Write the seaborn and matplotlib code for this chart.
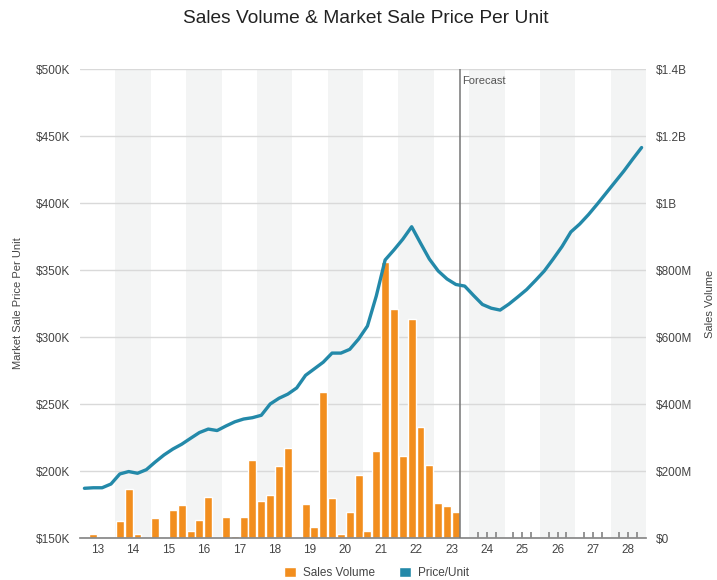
import numpy as np
import pandas as pd
import matplotlib
matplotlib.use("Agg")
import matplotlib.pyplot as plt
from matplotlib.patches import Patch
import seaborn as sns

# years on the x axis (labels are the short year)
years = list(range(13, 29))

# quarterly sales volume, $M, 2013 Q1 .. 2023 Q3
volume_m = [0, 13, 0, 0,
            52, 146, 13, 0,
            59, 0, 84, 99,
            22, 54, 123, 4,
            62, 6, 62, 233,
            110, 128, 214, 268,
            0, 101, 33, 436,
            119, 11, 78, 189,
            21, 260, 823, 684,
            246, 654, 331, 219,
            104, 96, 78]

# quarterly market sale price per unit, $K, 2013 Q1 .. 2028 Q4
price_k = [187.1, 187.5, 187.5, 190.3,
           197.8, 199.6, 198.3, 201.0,
           206.7, 212.0, 216.4, 220.0,
           224.4, 228.7, 231.3, 230.2,
           233.6, 236.7, 238.8, 239.8,
           241.6, 250.0, 254.3, 257.4,
           262.0, 271.4, 276.3, 281.2,
           288.0, 288.0, 290.8, 298.5,
           308.2, 330.6, 357.5, 365.0,
           373.0, 382.3, 370.1, 358.2,
           349.3, 343.3, 339.2, 338.0,
           331.0, 324.3, 321.5, 320.1,
           324.6, 329.9, 335.4, 342.2,
           349.3, 358.2, 367.5, 378.4,
           384.3, 391.4, 399.3, 407.5,
           415.7, 423.9, 432.8, 441.4]

forecast_at = 23.25

price_ticks = [150, 200, 250, 300, 350, 400, 450, 500]
price_labels = ["$150K", "$200K", "$250K", "$300K", "$350K", "$400K", "$450K", "$500K"]
vol_ticks = [0, 200, 400, 600, 800, 1000, 1200, 1400]
vol_labels = ["$0", "$200M", "$400M", "$600M", "$800M", "$1B", "$1.2B", "$1.4B"]

orange = "#f28e1e"
teal = "#2389a9"

# quarter centres: year + (q - 2.5)/4
qx = [y + (q - 2.5) / 4 for y in years for q in range(1, 5)]
bars = pd.DataFrame({"x": qx[:len(volume_m)], "vol": volume_m})
line = pd.DataFrame({"x": qx, "price": price_k})

sns.set_theme(style="white")
plt.rcParams["font.family"] = ["Liberation Sans", "DejaVu Sans"]

fig = plt.figure(figsize=(7.17, 5.80), dpi=100)
ax = fig.add_axes([0.1116, 0.0724, 0.7894, 0.8086])
ax2 = ax.twinx()

# alternating year bands
for i, y in enumerate(years):
    if i % 2 == 1:
        ax.axvspan(y - 0.5, y + 0.5, color="#f3f4f4", zorder=0, lw=0)

sns.barplot(data=bars, x="x", y="vol", ax=ax, native_scale=True, orient="x",
            color=orange, saturation=1, width=0.9, errorbar=None, zorder=2)
sns.lineplot(data=line, x="x", y="price", ax=ax2, color=teal, linewidth=2.4)

ax.axvline(forecast_at, color="#777777", lw=1.1, zorder=3)
ax.text(forecast_at + 0.06, 1380, "Forecast", fontsize=8, color="#555555",
        va="top", ha="left")

# volume axis (right)
ax.set_ylim(0, 1400)
ax.set_yticks(vol_ticks, vol_labels)
ax.yaxis.tick_right()
ax.yaxis.set_label_position("right")
ax.set_ylabel("Sales Volume", fontsize=8, color="#444444", rotation=90)
ax.yaxis.set_label_coords(1.105, 0.5)
ax.grid(axis="y", color="#d9d9d9", lw=1)
ax.set_axisbelow(True)

# price axis (left)
ax2.set_ylim(150, 500)
ax2.set_yticks(price_ticks, price_labels)
ax2.yaxis.tick_left()
ax2.yaxis.set_label_position("left")
ax2.set_ylabel("Market Sale Price Per Unit", fontsize=8, color="#444444")
ax2.yaxis.set_label_coords(-0.100, 0.5)

ax.set_xlim(12.5, 28.5)
ax.set_xticks(years, [str(y) for y in years])
ax.set_xticks([y - 0.5 for y in years] + [years[-1] + 0.5], minor=True)
ax.set_xlabel("")
ax2.set_xlabel("")
ax.tick_params(axis="x", which="major", length=0, labelsize=8.5, labelcolor="#444444", pad=4)
ax.tick_params(axis="x", which="minor", length=9, direction="inout", color="#888888", width=1)
ax.tick_params(axis="y", length=0, labelsize=8.5, labelcolor="#444444", pad=7)
ax2.tick_params(axis="y", length=0, labelsize=8.5, labelcolor="#444444", pad=7)

# small quarter ticks in the forecast period
sec = ax.secondary_xaxis("bottom")
sec.set_xticks([x + 0.125 for x in qx if x + 0.125 > 23.5 and (x + 0.125) % 1 != 0.5])
sec.tick_params(axis="x", direction="in", length=4, color="#888888", labelbottom=False)
sec.spines["bottom"].set_visible(False)

for s in ["top", "left", "right"]:
    ax.spines[s].set_visible(False)
ax.spines["bottom"].set_color("#888888")
for s in ax2.spines.values():
    s.set_visible(False)

fig.suptitle("Sales Volume & Market Sale Price Per Unit", x=0.51, y=0.982,
             fontsize=13.8, color="#222222")

handles = [Patch(facecolor=orange, label="Sales Volume"),
           Patch(facecolor=teal, label="Price/Unit")]
fig.legend(handles=handles, loc="lower center", bbox_to_anchor=(0.525, -0.017), ncol=2,
           frameon=False, fontsize=8.5, handlelength=1.0, handleheight=1.0,
           columnspacing=2.0, handletextpad=0.6, labelcolor="#444444")

fig.savefig("out.png", dpi=100)
